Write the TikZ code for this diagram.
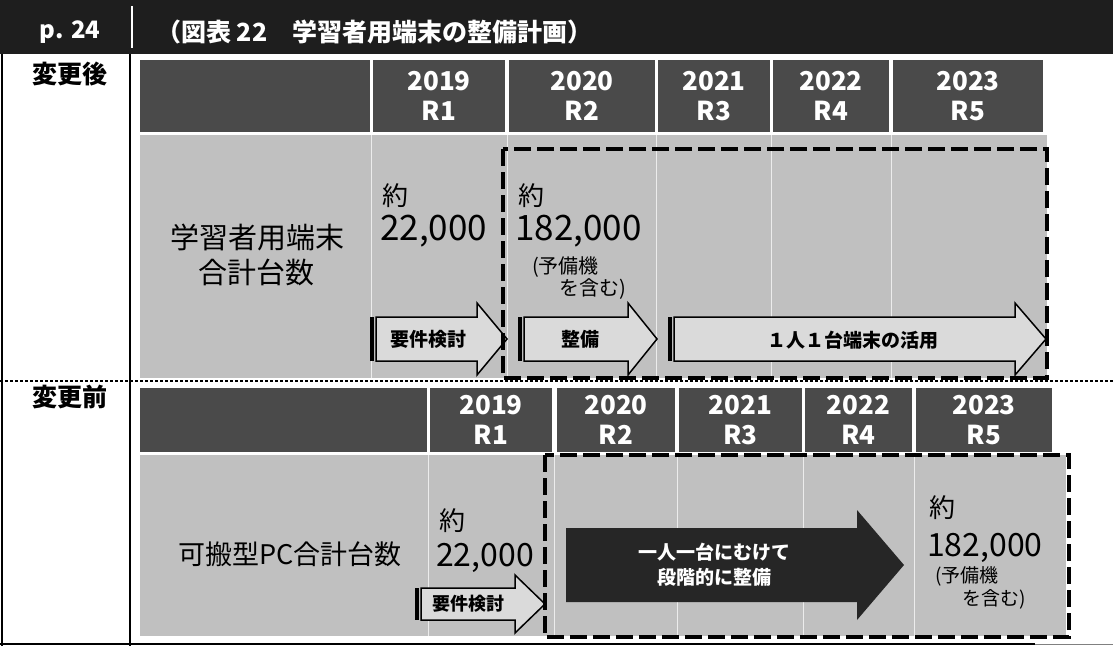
\documentclass[tikz,border=0pt]{standalone}
\usepackage{fontspec}
\setmainfont{Noto Sans CJK JP}
\definecolor{titleblack}{HTML}{1E1E1E}
\definecolor{headgray}{HTML}{4A4A4A}
\definecolor{bodygray}{HTML}{C0C0C0}
\definecolor{arrowfill}{HTML}{DADADA}
\definecolor{darkarrow}{HTML}{262626}
\newcommand\fsz[1]{\fontsize{#1}{#1}\selectfont}
\begin{document}
\begin{tikzpicture}[x=1pt,y=-1pt,
  hcell/.style={fill=headgray, inner sep=0pt, text=white, align=center,
    font=\bfseries\fontsize{26}{30}\selectfont},
  rowlabel/.style={inner sep=0pt, font=\bfseries\fsz{25}},
  txt/.style={inner sep=0pt, text=black},
  btxt/.style={inner sep=0pt, anchor=base west, text=black},
  arrlabel/.style={inner sep=0pt, font=\bfseries\fsz{19}},
  arr/.style={fill=arrowfill, draw=black, line width=1.5pt, line join=miter},
  bar/.style={fill=black},
  dbox/.style={draw=black, line width=4.5pt, dash pattern=on 17pt off 6pt},
  sep/.style={draw=black, line width=1.2pt, dash pattern=on 3pt off 2pt},
  faint/.style={draw=white, line width=0.8pt, opacity=0.7}
]
\useasboundingbox (0,0) rectangle (1113,648);
\fill[white] (0,0) rectangle (1113,648);

% title bar
\fill[titleblack] (0,0) rectangle (1113,54);
\node[inner sep=0pt, text=white, font=\bfseries\fsz{24}] (ptitle) at (70,32) {p. 24};
\draw[white, line width=1.5pt] (132,6) -- (132,48);
\node[inner sep=0pt, anchor=west, text=white, font=\bfseries\fsz{25}] (title) at (156,32) {（図表 22　学習者用端末の整備計画）};

% borders
\draw[black, line width=2pt] (2,54) -- (2,646);
\draw[black, line width=2pt] (130,54) -- (130,646);
\draw[black, line width=2.5pt] (0,644) -- (1035,644);
\draw[gray, line width=1pt] (1035,644) -- (1113,644);

% row labels
\node[rowlabel] (after) at (70,74) {変更後};
\node[rowlabel] (before) at (70,397) {変更前};

% ---- row 1 (after) ----
\node[hcell, minimum width=230pt, minimum height=72pt] (h1x) at (255,96) {};
\node[hcell, minimum width=132pt, minimum height=72pt] (h1a) at (439,96) {2019\\R1};
\node[hcell, minimum width=146pt, minimum height=72pt] (h1b) at (582,96) {2020\\R2};
\node[hcell, minimum width=112pt, minimum height=72pt] (h1c) at (714,96) {2021\\R3};
\node[hcell, minimum width=116pt, minimum height=72pt] (h1d) at (831,96) {2022\\R4};
\node[hcell, minimum width=150pt, minimum height=72pt] (h1e) at (968,96) {2023\\R5};

\fill[bodygray] (140,135) rectangle (1047,378);
\foreach \xx in {371,507,656,771,891} \draw[faint] (\xx,135) -- (\xx,378);

\node[txt, font=\fsz{29}] (t1a) at (257,237) {学習者用端末};
\node[txt, font=\fsz{29}] (t1b) at (256,272) {合計台数};
\node[btxt, font=\fsz{26}, text height=23pt, text depth=3pt] (y1a) at (382,205) {約};
\node[btxt, font=\fsz{35}, text height=25pt, text depth=4pt] (n1a) at (380,240) {22,000};
\node[btxt, font=\fsz{26}, text height=23pt, text depth=3pt] (y1b) at (518,205) {約};
\node[btxt, font=\fsz{35}, text height=25pt, text depth=4pt] (n1b) at (515,240) {182,000};
\node[btxt, font=\fsz{20}, text height=17pt, text depth=3pt] (p1a) at (532,273) {(予備機};
\node[btxt, font=\fsz{20}, text height=17pt, text depth=3pt] (p1b) at (559,295) {を含む)};

% arrows row 1
\fill[bar] (370,317) rectangle (373.5,361);
\filldraw[arr] (376,317) -- (477,317) -- (477,303) -- (507,339) -- (477,375) -- (477,361) -- (376,361) -- cycle;
\node[arrlabel] (a1) at (428,339) {要件検討};

\fill[bar] (518,317) rectangle (521.5,361);
\filldraw[arr] (524,317) -- (628,317) -- (628,303) -- (657,339) -- (628,375) -- (628,361) -- (524,361) -- cycle;
\node[arrlabel] (a2) at (580,339) {整備};

\fill[bar] (668,317) rectangle (671.5,361);
\filldraw[arr] (674,317) -- (1015,317) -- (1015,303) -- (1046,339) -- (1015,375) -- (1015,361) -- (674,361) -- cycle;
\node[arrlabel] (a3) at (853,340) {１人１台端末の活用};

\draw[dbox] (503,149) rectangle (1047,378);

% separator
\draw[sep] (0,381) -- (1113,381);

% ---- row 2 (before) ----
\node[hcell, minimum width=287pt, minimum height=64pt] (h2x) at (283.5,420) {};
\node[hcell, minimum width=122pt, minimum height=64pt] (h2a) at (491,420) {2019\\R1};
\node[hcell, minimum width=118pt, minimum height=64pt] (h2b) at (616,420) {2020\\R2};
\node[hcell, minimum width=123pt, minimum height=64pt] (h2c) at (740.5,420) {2021\\R3};
\node[hcell, minimum width=107pt, minimum height=64pt] (h2d) at (858.5,420) {2022\\R4};
\node[hcell, minimum width=136pt, minimum height=64pt] (h2e) at (984,420) {2023\\R5};

\fill[bodygray] (140,455) rectangle (1066,636);
\foreach \xx in {428,554,677,803,914} \draw[faint] (\xx,455) -- (\xx,636);

\node[txt, font=\fsz{27}] (t2) at (290,554) {可搬型PC合計台数};
\node[btxt, font=\fsz{26}, text height=23pt, text depth=3pt] (y2a) at (439,530) {約};
\node[btxt, font=\fsz{32}, text height=23pt, text depth=4pt] (n2a) at (436,566) {22,000};

\fill[bar] (415,588) rectangle (418.5,620);
\filldraw[arr] (421,588) -- (515,588) -- (515,575) -- (545,604) -- (515,633) -- (515,620) -- (421,620) -- cycle;
\node[arrlabel, font=\bfseries\fsz{18}] (a4) at (468,604) {要件検討};

\fill[darkarrow] (566,528) -- (857,528) -- (857,510) -- (904,565) -- (857,620) -- (857,602) -- (566,602) -- cycle;
\node[inner sep=0pt, text=white, align=center, font=\bfseries\fontsize{19}{25}\selectfont] (a5) at (714,565) {一人一台にむけて\\段階的に整備};

\node[btxt, font=\fsz{26}, text height=23pt, text depth=3pt] (y2b) at (929,517) {約};
\node[btxt, font=\fsz{32}, text height=23pt, text depth=4pt] (n2b) at (927,556) {182,000};
\node[btxt, font=\fsz{19}, text height=16pt, text depth=3pt] (p2a) at (935,582) {(予備機};
\node[btxt, font=\fsz{19}, text height=16pt, text depth=3pt] (p2b) at (962,605) {を含む)};

\draw[dbox] (545,455) rectangle (1069,637);
\end{tikzpicture}
\end{document}
